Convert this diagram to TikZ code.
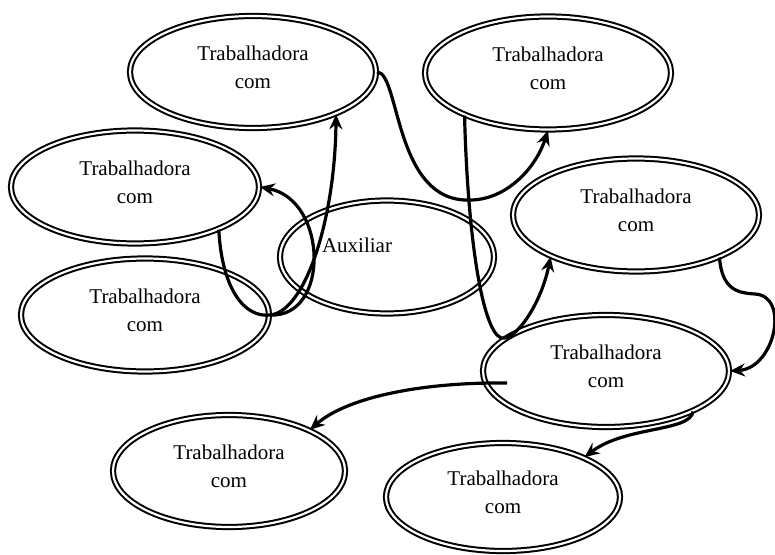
\documentclass[tikz,border=0pt]{standalone}
\usepackage{fontspec}
\setmainfont{Liberation Serif}
\usetikzlibrary{shapes.geometric, arrows.meta}
\begin{document}
\begin{tikzpicture}[x=0.5pt, y=-0.5pt,
    oval/.style={ellipse, draw, double, line width=1pt, double distance=1.1pt,
        minimum width=123pt, minimum height=56.5pt, inner sep=0pt, text depth=5pt,
        align=center, font=\fontsize{10.5}{14}\selectfont},
    link/.style={line width=1.6pt},
    >={Stealth[length=7.5pt, width=6.5pt, inset=2.5pt]}]
    \useasboundingbox (0,0) rectangle (775,555);

    % Draw nodes
    \node[oval, minimum height=56pt] (1) at (253,72) {Trabalhadora\\com};
    \node[oval] (2) at (548,73) {Trabalhadora\\com};
    \node[oval, minimum width=124pt] (3) at (135,187) {Trabalhadora\\com};
    \node[oval, minimum width=124pt] (4) at (145,315) {Trabalhadora\\com};
    \node[oval, minimum width=107pt,
        label={[xshift=-15pt, yshift=6pt, font=\fontsize{10.5}{14}\selectfont]center:Auxiliar}] (5) at (387,257) {};
    \node[oval] (6) at (636,215) {Trabalhadora\\com};
    \node[oval, minimum height=56pt] (7) at (606,371) {Trabalhadora\\com};
    \node[oval, minimum width=116pt, minimum height=56pt] (8) at (229,471) {Trabalhadora\\com};
    \node[oval, minimum width=117pt, minimum height=54pt] (9) at (503,497) {Trabalhadora\\com};
    \coordinate (7a) at (507,383);

    % Draw edges
    \draw[link, ->] (1.east) .. controls (400,72) and (394,203) .. (470,200)
        .. controls (505,200) and (535,170) .. (2.south); % 1 to 2
    \draw[link, ->] (2.207) .. controls (468,250) and (485,343) .. (7.162)
        .. controls (520,335) and (542,300) .. (6.206); % 2 to 6
    \draw[link, ->] (6.-27) .. controls (722,290) and (738,293) .. (755,294)
        .. controls (790,296) and (775,368) .. (7.east); % 6 to 7
    \draw[link, ->] (7a) .. controls (430,382) and (350,395) .. (8.27); % 7 to 8
    \draw[link, ->] (7.-25) .. controls (690,432) and (625,426) .. (9.26); % 7 to 9
    \draw[link] (3.-27) .. controls (222,290) and (245,318) .. (4.east); % 3 to 4
    \draw[link, ->] (4.east) .. controls (305,312) and (335,220) .. (1.-27); % 4 to 1
    \draw[link, ->] (4.east) .. controls (330,318) and (328,200) .. (3.east); % 4 to 3
\end{tikzpicture}
\end{document}
